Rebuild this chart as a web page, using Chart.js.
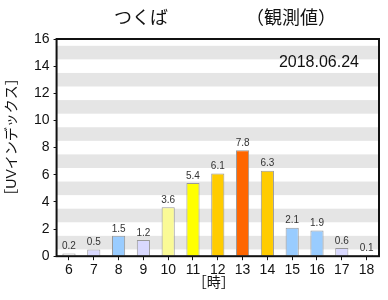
<!DOCTYPE html>
<html>
<head>
<meta charset="utf-8">
<script src="https://cdn.jsdelivr.net/npm/chart.js@4"></script>
<style>
  html, body { margin: 0; padding: 0; background: #fff; }
  #wrap { width: 388px; height: 300px; position: relative; }
</style>
</head>
<body>
<div id="wrap"><canvas id="uv-chart"></canvas></div>
<script>
// hourly UV index, Tsukuba, 2018-06-24 (observed)
const hours = ['6', '7', '8', '9', '10', '11', '12', '13', '14', '15', '16', '17', '18'];
const uvIndex = [0.2, 0.5, 1.5, 1.2, 3.6, 5.4, 6.1, 7.8, 6.3, 2.1, 1.9, 0.6, 0.1];
const yMax = 16;
const bandCenters = [1, 3, 5, 7, 9, 11, 13, 15];  // gray stripes, +-0.5 each

const FONT = "'Liberation Sans', 'Noto Sans CJK JP', sans-serif";

function levelColor(v) {
    if (v < 0.3) return '#ffffff';
    if (v < 1.3) return '#d9d9ff';
    if (v < 3) return '#99ccff';
    if (v < 5) return '#fafa96';
    if (v < 6) return '#ffff00';
    if (v < 7) return '#ffcc00';
    return '#ff6600';
}

const decorations = {
    id: 'decorations',
    beforeDatasetsDraw(chart) {
        const {ctx, chartArea: a, scales: {y}} = chart;
        ctx.save();
        ctx.fillStyle = '#e5e5e5';
        bandCenters.forEach(v => {
            const top = y.getPixelForValue(v + 0.5);
            const bot = y.getPixelForValue(v - 0.5);
            ctx.fillRect(a.left, top, a.right - a.left, bot - top);
        });
        ctx.restore();
    },
    afterDatasetsDraw(chart) {
        const {ctx, chartArea: a} = chart;
        const meta = chart.getDatasetMeta(0);
        ctx.save();
        // value labels
        ctx.font = '10px ' + FONT;
        ctx.fillStyle = '#333';
        ctx.textAlign = 'center';
        ctx.textBaseline = 'bottom';
        meta.data.forEach((bar, i) => {
            ctx.fillText(uvIndex[i].toFixed(1), bar.x, bar.y - 2);
        });
        // frame
        ctx.strokeStyle = '#111';
        ctx.lineWidth = 2;
        ctx.strokeRect(a.left, a.top, a.right - a.left, a.bottom - a.top);
        // date
        ctx.font = '16px ' + FONT;
        ctx.fillStyle = '#111';
        ctx.textAlign = 'right';
        ctx.textBaseline = 'alphabetic';
        ctx.fillText('2018.06.24', a.right - 20, a.top + 28);
        ctx.restore();
    },
    afterDraw(chart) {
        const {ctx, chartArea: a} = chart;
        ctx.save();
        ctx.fillStyle = '#111';
        ctx.textBaseline = 'middle';
        ctx.font = '18px ' + FONT;
        ctx.textAlign = 'left';
        ctx.fillText('つくば', 114, 19);
        ctx.fillText('（観測値）', 246, 19);
        // axis titles
        ctx.font = '14px ' + FONT;
        ctx.textAlign = 'center';
        ctx.fillText('［時］', (a.left + a.right) / 2 - 4, 283);
        ctx.translate(12, 137);
        ctx.rotate(-Math.PI / 2);
        ctx.fillText('［UVインデックス］', 0, 0);
        ctx.restore();
    }
};

new Chart(document.getElementById('uv-chart'), {
    type: 'bar',
    data: {
        labels: hours,
        datasets: [{
            data: uvIndex,
            backgroundColor: uvIndex.map(levelColor),
            borderColor: '#999',
            borderWidth: 1,
            barPercentage: 0.53,
            categoryPercentage: 1
        }]
    },
    options: {
        responsive: true,
        maintainAspectRatio: false,
        animation: false,
        layout: {padding: {left: 30, right: 9, top: 39, bottom: 19}},
        plugins: {
            legend: {display: false},
            tooltip: {enabled: false}
        },
        scales: {
            x: {
                offset: true,
                grid: {display: true, drawOnChartArea: false, offset: false, color: '#111', tickLength: 4},
                border: {display: false},
                ticks: {color: '#111', font: {family: FONT, size: 14}, padding: 2, maxRotation: 0}
            },
            y: {
                min: 0,
                max: yMax,
                grid: {display: true, drawOnChartArea: false, color: '#111', tickLength: 3},
                border: {display: false},
                ticks: {
                    stepSize: 1,
                    color: '#111',
                    font: {family: FONT, size: 14},
                    padding: 4,
                    callback: v => (v % 2 === 0 ? v : '')
                }
            }
        }
    },
    plugins: [decorations]
});
</script>
</body>
</html>
